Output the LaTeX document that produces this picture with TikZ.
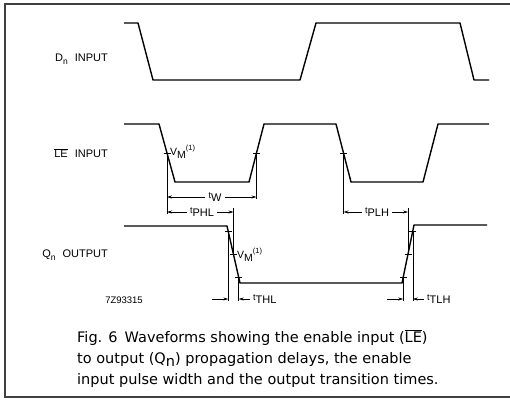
\documentclass[tikz,border=0pt]{standalone}
\usepackage{fontspec}
\setmainfont{Liberation Sans}
\newfontfamily\capfont{DejaVu Sans}
\usetikzlibrary{calc,arrows.meta}
\newcommand{\tl}[1]{{\fontsize{9}{9}\selectfont t}\raisebox{-3pt}{#1}}
\newcommand{\vmlab}{V\raisebox{-3pt}{M}\raisebox{5.5pt}{\fontsize{7.5}{8}\selectfont (1)}}
\newcommand{\lebar}{$\overline{\hbox{LE}}$}

\begin{document}
\begin{tikzpicture}[x=1pt, y=-1pt,
  wave/.style={black, line width=1.4pt, line join=round},
  guide/.style={black, line width=0.6pt},
  dimarrow/.style={guide, -{Stealth[length=5pt,width=3pt]}},
  siglabel/.style={font=\fontsize{11}{12}\selectfont, anchor=east, inner sep=0pt},
  timelabel/.style={font=\fontsize{11}{12}\selectfont, inner sep=3pt},
  caption/.style={font=\capfont\fontsize{14.5}{21}\selectfont, anchor=base west, inner sep=0pt},
]
\useasboundingbox (0,0) rectangle (510,401);
\draw[black!75, line width=1.2pt] (510,4) -- (5,4) -- (5,397) -- (510,397);

% waveforms
\draw[wave] (124,23) -- (138,23) -- (153,80) -- (300,80) -- (316,23) -- (460,23)
  -- (474,80) -- (489,80);
\draw[wave] (124,124) -- (159,124) coordinate (lea) -- (175,182) coordinate (leb)
  -- (249,182) coordinate (lec) -- (264,124) coordinate (led)
  -- (336,124) coordinate (lee) -- (351,182) coordinate (lef)
  -- (423,182) -- (438,124) -- (489,124);
\draw[wave] (124,226) -- (227,226) coordinate (qa) -- (240,283) coordinate (qb)
  -- (402,283) coordinate (qc) -- (414,225) coordinate (qd) -- (487,225);

\coordinate (vm1) at ($(lea)!0.5!(leb)$);
\coordinate (vm2) at ($(lec)!0.5!(led)$);
\coordinate (vm3) at ($(lee)!0.5!(lef)$);
\foreach \p in {1,5,9} {
  \coordinate (qf\p) at ($(qa)!0.\p!(qb)$);
  \coordinate (qr\p) at ($(qc)!0.\p!(qd)$);
}
\foreach \c in {vm1,vm2,vm3,qf1,qf5,qf9,qr1,qr5,qr9}
  \draw[guide] ([xshift=-3.5pt]\c) -- ([xshift=3.5pt]\c);

% labels
\node[siglabel] (dlab) at (108,59) {D\raisebox{-2.5pt}{\fontsize{8.5}{9}\selectfont n}\hspace{7pt}INPUT};
\node[siglabel] (lelab) at (108,153) {\lebar\hspace{7pt}INPUT};
\node[siglabel] (qlab) at (108,255) {Q\raisebox{-2.5pt}{\fontsize{8.5}{9}\selectfont n}\hspace{7pt}OUTPUT};
\node[font=\fontsize{9.5}{10}\selectfont, inner sep=0pt] (figno) at (124,300) {7Z93315};
\node[font=\fontsize{10.5}{11}\selectfont, anchor=west, inner sep=1pt] (vmla) at (169,152) {\vmlab};
\node[font=\fontsize{10.5}{11}\selectfont, anchor=west, inner sep=1pt] (vmlb) at (236,255) {\vmlab};

% timing
\node[timelabel] (tw) at (215,197) {\tl{W}};
\node[timelabel] (tphl) at (202,212) {\tl{PHL}};
\node[timelabel] (tplh) at (377,212) {\tl{PLH}};
\node[timelabel, anchor=west] (tthl) at (250,299) {\tl{THL}};
\node[timelabel, anchor=west] (ttlh) at (424,299) {\tl{TLH}};

\draw[guide] (vm1) -- ([yshift=-2pt]vm1 |- tphl);
\draw[guide] (vm2) -- ([yshift=-2pt]vm2 |- tw);
\draw[guide] (vm3) -- ([yshift=-2pt]vm3 |- tplh);
\draw[guide] ([yshift=4pt]qf5 |- tphl) -- (qf5);
\draw[guide] ([yshift=4pt]qr5 |- tplh) -- (qr5);
\foreach \c in {qf1,qf9,qr1,qr9}
  \draw[guide] (\c) -- ([yshift=-2pt]\c |- tthl);

\draw[dimarrow] (tw.west) -- (tw.west -| vm1);
\draw[dimarrow] (tw.east) -- (tw.east -| vm2);
\draw[dimarrow] (tphl.west) -- (tphl.west -| vm1);
\draw[dimarrow] (tphl.east) -- (tphl.east -| qf5);
\draw[dimarrow] (tplh.west) -- (tplh.west -| vm3);
\draw[dimarrow] (tplh.east) -- (tplh.east -| qr5);
\draw[dimarrow] ($(qf1 |- tthl)+(-16,0)$) -- (qf1 |- tthl);
\draw[dimarrow] (tthl.west) -- (tthl.west -| qf9);
\draw[dimarrow] ($(qr1 |- ttlh)+(-16,0)$) -- (qr1 |- ttlh);
\draw[dimarrow] (ttlh.west) -- (ttlh.west -| qr9);

% caption
\node[caption] (cap1) at (77,342) {Fig. 6\hspace{7pt}Waveforms showing the enable input (\lebar)};
\node[caption] (cap2) at (77,363) {to output (Q\raisebox{-3.5pt}{n}) propagation delays, the enable};
\node[caption] (cap3) at (77,384) {input pulse width and the output transition times.};
\end{tikzpicture}
\end{document}
